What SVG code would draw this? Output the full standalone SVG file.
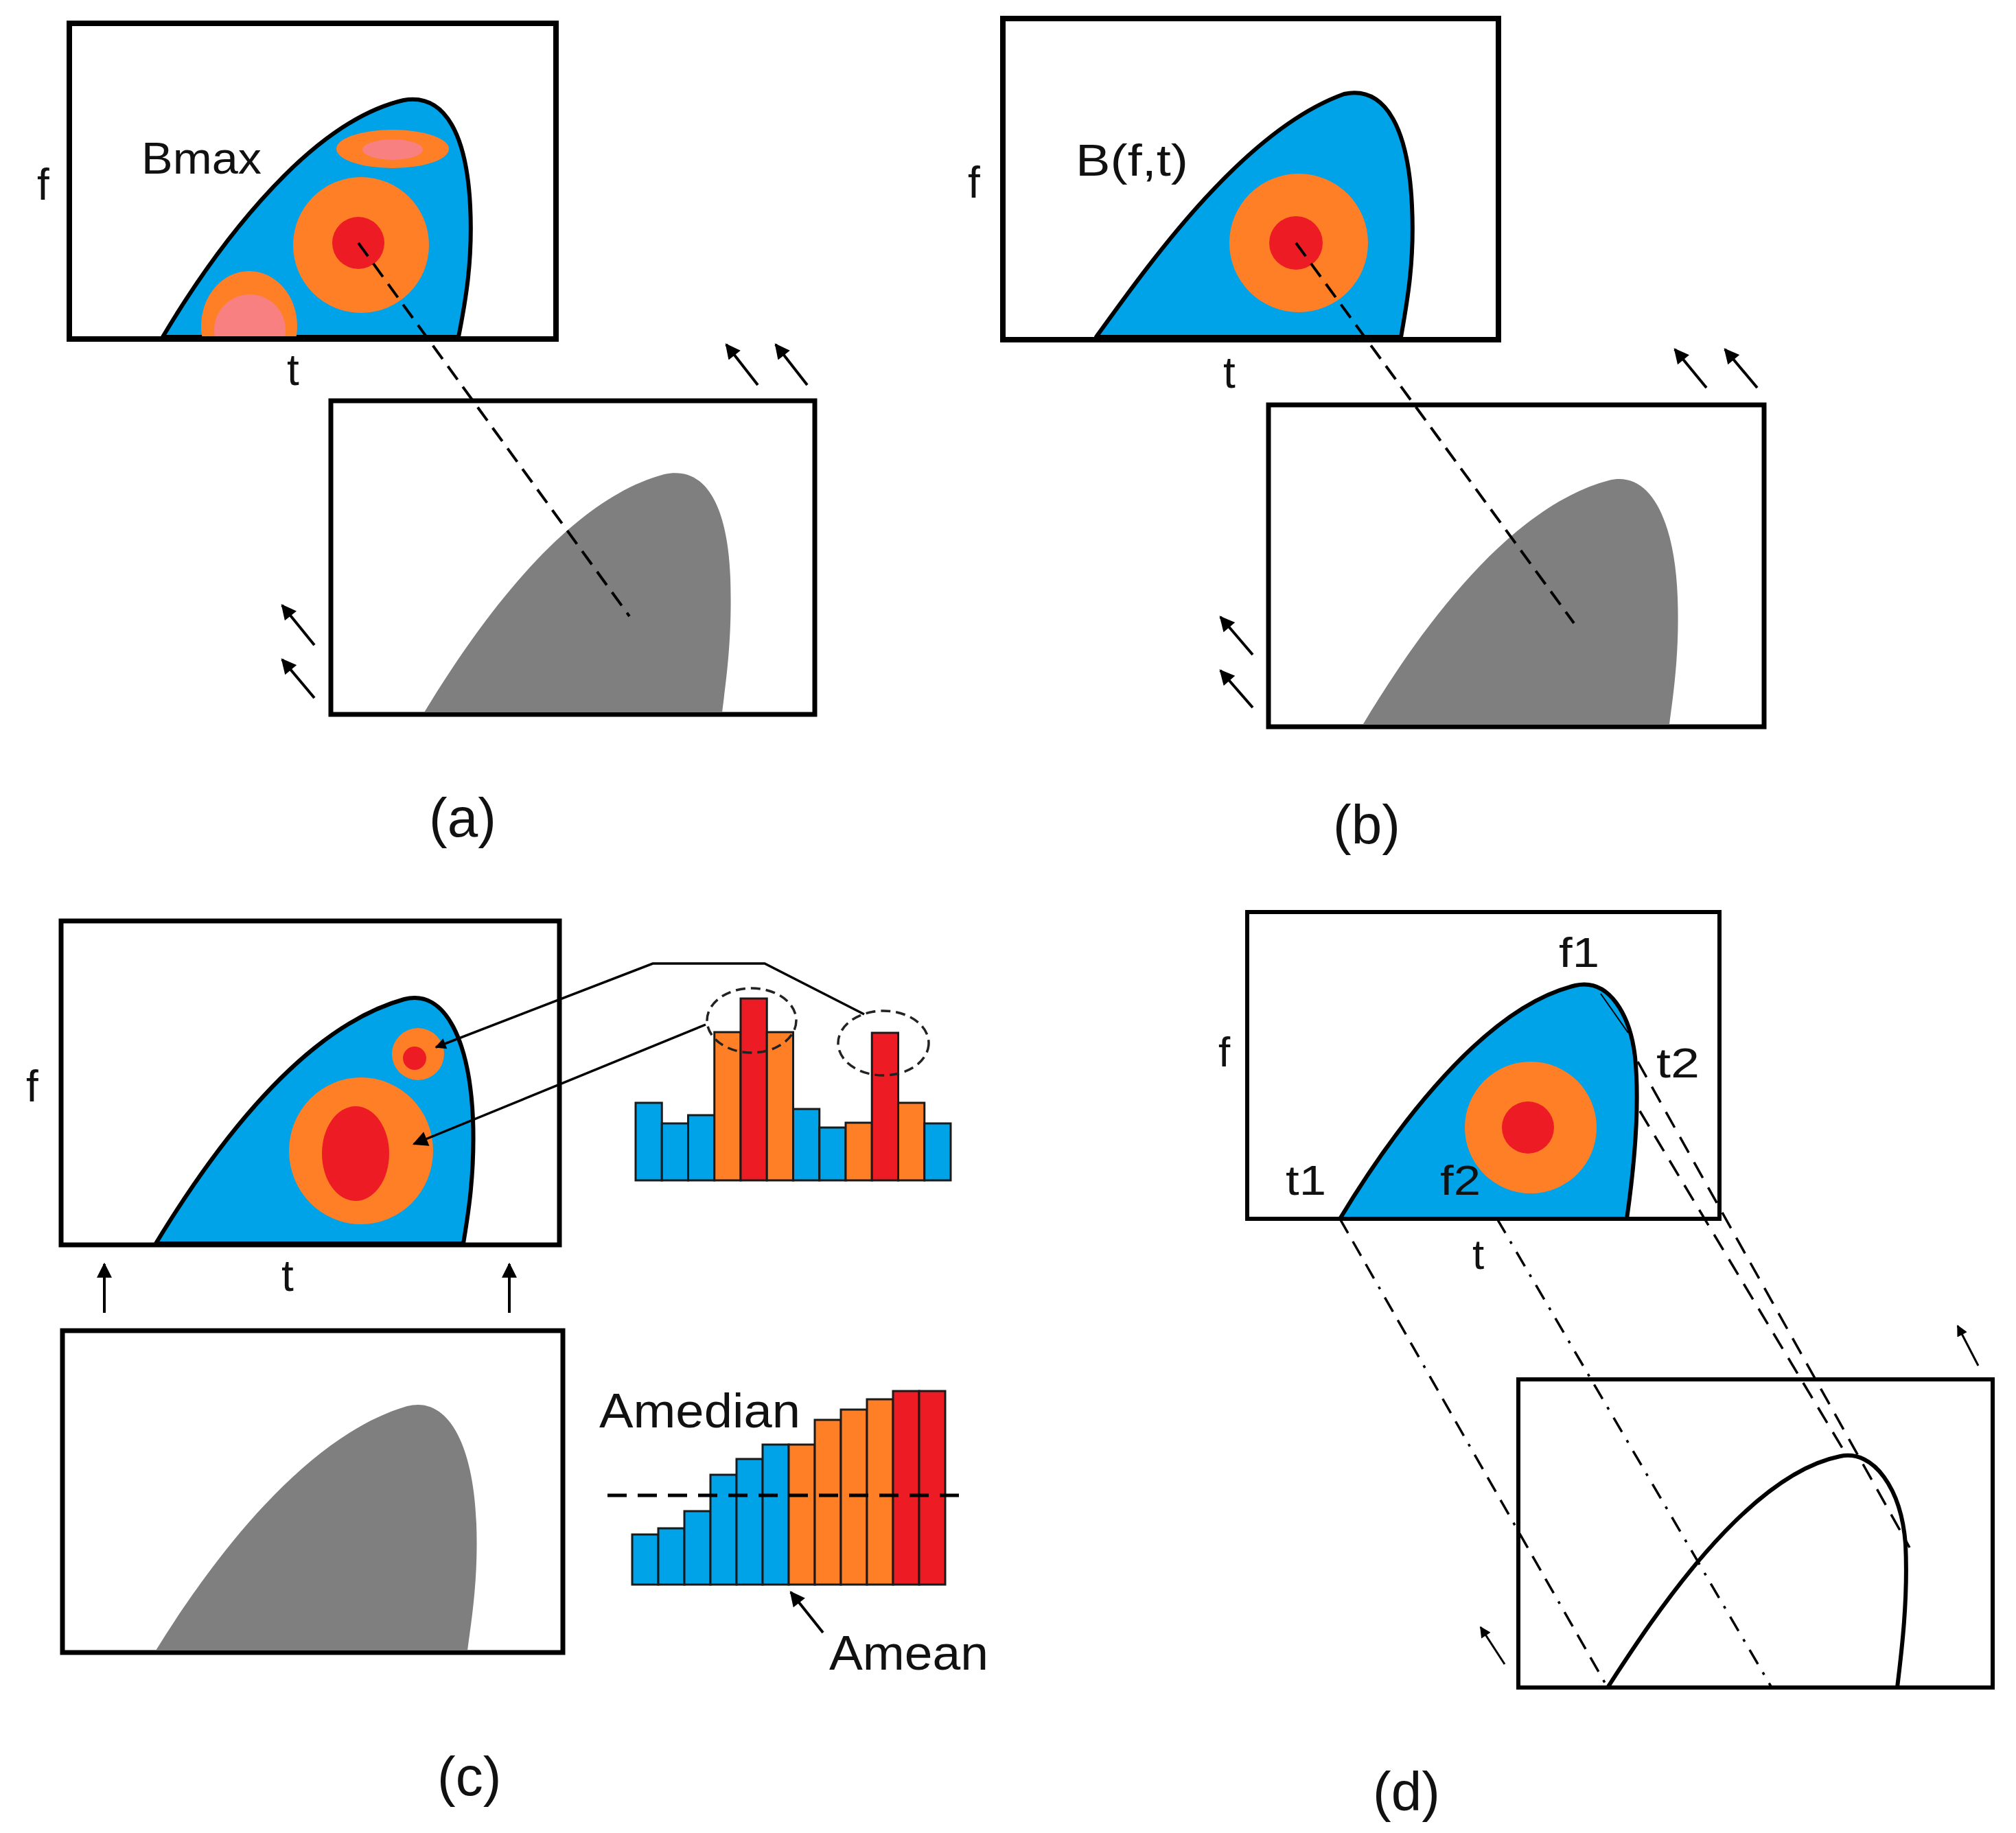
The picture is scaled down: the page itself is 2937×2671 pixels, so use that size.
<svg xmlns="http://www.w3.org/2000/svg" width="2937" height="2671" viewBox="0 0 2937 2671">
<style>
.frame{fill:none;stroke:#000;stroke-width:7}
.edge{stroke:#000;stroke-width:6;stroke-linejoin:round}
.blue{fill:#00A2E8}
.orange{fill:#FF7F27}
.red{fill:#ED1C24}
.pink{fill:#F88080}
.gray{fill:#7F7F7F}
.lbl{font-family:"Liberation Sans",Arial,sans-serif;font-size:64px;fill:#111}
.cap{font-family:"Liberation Sans",Arial,sans-serif;font-size:80px;fill:#111}
.dash{fill:none;stroke:#000;stroke-width:4;stroke-dasharray:24 13}
.arr{fill:none;stroke:#000;stroke-width:4;marker-end:url(#ah)}
.arrs{fill:none;stroke:#000;stroke-width:3;marker-end:url(#ahs)}
.conn{fill:none;stroke:#000;stroke-width:3.5}
.bar{stroke:#1a1a1a;stroke-width:3}
.dcirc{fill:none;stroke:#222;stroke-width:3.5;stroke-dasharray:14 8}
</style>
<defs>
<marker id="ah" viewBox="0 0 10 10" refX="9" refY="5" markerWidth="24" markerHeight="22" markerUnits="userSpaceOnUse" orient="auto"><path d="M0,0 L10,5 L0,10 z" fill="#000"/></marker>
<marker id="ahs" viewBox="0 0 10 10" refX="9" refY="5" markerWidth="18" markerHeight="16" markerUnits="userSpaceOnUse" orient="auto"><path d="M0,0 L10,5 L0,10 z" fill="#000"/></marker>
<clipPath id="clipA"><path d="M237,491 C300,385 440,180 588,146 C650,135 680,200 685,300 C689,380 678,440 668,491 Z"/></clipPath>
</defs>
<rect width="2937" height="2671" fill="#fff"/>

<!-- Panel (a) -->
<g id="a-spectrogram">
<path class="blue edge" d="M237,491 C300,385 440,180 588,146 C650,135 680,200 685,300 C689,380 678,440 668,491 Z"/>
<g clip-path="url(#clipA)">
<ellipse class="orange" cx="363" cy="475" rx="70" ry="80"/>
<ellipse class="pink" cx="364" cy="481" rx="52" ry="52"/>
</g>
<ellipse class="orange" cx="572" cy="217" rx="82" ry="28"/>
<ellipse class="pink" cx="572" cy="218" rx="44" ry="15"/>
<circle class="orange" cx="526" cy="357" r="99"/>
<circle class="red" cx="522" cy="354" r="38"/>
<rect class="frame" x="101" y="34" width="709" height="460" style="stroke-width:8"/>
<text class="lbl" x="54" y="291">f</text>
<text class="lbl" x="206" y="253" textLength="175" lengthAdjust="spacingAndGlyphs">Bmax</text>
<text class="lbl" x="418" y="561">t</text>
</g>
<g id="a-image">
<rect class="frame" x="482" y="584" width="705" height="457"/>
<path class="gray" d="M618,1038 C690,920 820,730 968,691 C1030,678 1060,740 1064,842 C1067,930 1058,990 1052,1038 Z"/>
<text class="cap" x="625" y="1219">(a)</text>
</g>

<!-- Panel (b) -->
<g id="b-spectrogram">
<path class="blue edge" d="M1597,491 C1670,390 1810,190 1958,137 C2020,124 2052,190 2057,300 C2061,380 2050,440 2041,491 Z"/>
<circle class="orange" cx="1892" cy="354" r="101"/>
<circle class="red" cx="1888" cy="354" r="39"/>
<rect class="frame" x="1461" y="27" width="722" height="468" style="stroke-width:8"/>
<text class="lbl" x="1410" y="288">f</text>
<text class="lbl" x="1567" y="256" textLength="164" lengthAdjust="spacingAndGlyphs">B(f,t)</text>
<text class="lbl" x="1782" y="565">t</text>
</g>
<g id="b-image">
<rect class="frame" x="1848" y="590" width="722" height="469"/>
<path class="gray" d="M1986,1055 C2055,940 2190,740 2344,700 C2405,685 2440,760 2444,870 C2447,950 2438,1010 2432,1055 Z"/>
<text class="cap" x="1942" y="1229">(b)</text>
</g>

<!-- Panel (c) -->
<g id="c-spectrogram">
<path class="blue edge" d="M227,1812 C295,1700 430,1500 589,1456 C650,1440 684,1520 689,1630 C692,1710 682,1770 675,1812 Z"/>
<circle class="orange" cx="609" cy="1536" r="38"/>
<circle class="red" cx="604" cy="1542" r="17"/>
<ellipse class="orange" cx="526" cy="1677" rx="105" ry="107"/>
<ellipse class="red" cx="518" cy="1681" rx="49" ry="69"/>
<rect class="frame" x="89" y="1342" width="726" height="472"/>
<text class="lbl" x="38" y="1605">f</text>
<text class="lbl" x="410" y="1881">t</text>
</g>
<g id="c-image">
<rect class="frame" x="91" y="1939" width="729" height="469"/>
<path class="gray" d="M227,2405 C295,2295 435,2095 593,2049 C655,2033 690,2110 694,2220 C697,2300 687,2360 681,2405 Z"/>
<text class="cap" x="637" y="2616">(c)</text>
</g>
<g id="c-histogram-top">
<rect class="bar blue" x="926" y="1607" width="38.25" height="113"/>
<rect class="bar blue" x="964.25" y="1637" width="38.25" height="83"/>
<rect class="bar blue" x="1002.5" y="1625" width="38.25" height="95"/>
<rect class="bar orange" x="1040.75" y="1504" width="38.25" height="216"/>
<rect class="bar red" x="1079" y="1455" width="38.25" height="265"/>
<rect class="bar orange" x="1117.25" y="1504" width="38.25" height="216"/>
<rect class="bar blue" x="1155.5" y="1616" width="38.25" height="104"/>
<rect class="bar blue" x="1193.75" y="1643" width="38.25" height="77"/>
<rect class="bar orange" x="1232" y="1636" width="38.25" height="84"/>
<rect class="bar red" x="1270.25" y="1505" width="38.25" height="215"/>
<rect class="bar orange" x="1308.5" y="1607" width="38.25" height="113"/>
<rect class="bar blue" x="1346.75" y="1637" width="38.25" height="83"/>
<ellipse class="dcirc" cx="1095" cy="1487" rx="65" ry="47"/>
<ellipse class="dcirc" cx="1287" cy="1520" rx="66" ry="47"/>
</g>
<g id="c-histogram-sorted">
<rect class="bar blue" x="921" y="2236" width="38" height="73"/>
<rect class="bar blue" x="959" y="2227" width="38" height="82"/>
<rect class="bar blue" x="997" y="2202" width="38" height="107"/>
<rect class="bar blue" x="1035" y="2149" width="38" height="160"/>
<rect class="bar blue" x="1073" y="2126" width="38" height="183"/>
<rect class="bar blue" x="1111" y="2105" width="38" height="204"/>
<rect class="bar orange" x="1149" y="2105" width="38" height="204"/>
<rect class="bar orange" x="1187" y="2069" width="38" height="240"/>
<rect class="bar orange" x="1225" y="2054" width="38" height="255"/>
<rect class="bar orange" x="1263" y="2039" width="38" height="270"/>
<rect class="bar red" x="1301" y="2027" width="38" height="282"/>
<rect class="bar red" x="1339" y="2027" width="38" height="282"/>
<line x1="885" y1="2179" x2="1407" y2="2179" stroke="#000" stroke-width="5" stroke-dasharray="28 16"/>
<text class="lbl" x="873" y="2080" style="font-size:70px" textLength="293" lengthAdjust="spacingAndGlyphs">Amedian</text>
<text class="lbl" x="1208" y="2433" style="font-size:70px" textLength="232" lengthAdjust="spacingAndGlyphs">Amean</text>
</g>

<!-- Panel (d) -->
<g id="d-spectrogram">
<path class="blue edge" d="M1952,1776 C2010,1680 2150,1470 2295,1436 C2345,1425 2375,1480 2382,1540 C2390,1620 2378,1720 2370,1776 Z"/>
<line x1="2332" y1="1448" x2="2372" y2="1505" stroke="#000" stroke-width="2"/>
<circle class="orange" cx="2230" cy="1643" r="96"/>
<circle class="red" cx="2226" cy="1643" r="38"/>
<rect class="frame" x="1817" y="1329" width="688" height="447" style="stroke-width:6"/>
<text class="lbl" x="1775" y="1554" style="font-size:62px">f</text>
<text class="lbl" x="2271" y="1409" style="font-size:62px" textLength="59" lengthAdjust="spacingAndGlyphs">f1</text>
<text class="lbl" x="2413" y="1570" style="font-size:62px" textLength="63" lengthAdjust="spacingAndGlyphs">t2</text>
<text class="lbl" x="1873" y="1741" style="font-size:62px" textLength="59" lengthAdjust="spacingAndGlyphs">t1</text>
<text class="lbl" x="2098" y="1741" style="font-size:62px" textLength="59" lengthAdjust="spacingAndGlyphs">f2</text>
<text class="lbl" x="2145" y="1849" style="font-size:62px">t</text>
</g>
<g id="d-image">
<rect class="frame" x="2212" y="2010" width="691" height="449" style="stroke-width:6"/>
<path d="M2342,2459 C2400,2370 2540,2150 2681,2122 C2730,2112 2770,2170 2776,2250 C2780,2330 2770,2410 2764,2459" fill="none" stroke="#000" stroke-width="6"/>
<text class="cap" x="2000" y="2638">(d)</text>
</g>

<!-- Connectors -->
<g id="connectors">
<line class="dash" x1="522" y1="354" x2="917" y2="898"/>
<line class="dash" x1="1888" y1="354" x2="2293" y2="908"/>
<line class="arr" x1="1104" y1="561" x2="1058" y2="502"/>
<line class="arr" x1="1176" y1="561" x2="1130" y2="502"/>
<line class="arr" x1="458" y1="940" x2="411" y2="882"/>
<line class="arr" x1="458" y1="1017" x2="411" y2="961"/>
<line class="arr" x1="2486" y1="565" x2="2440" y2="509"/>
<line class="arr" x1="2560" y1="565" x2="2513" y2="509"/>
<line class="arr" x1="1825" y1="954" x2="1778" y2="899"/>
<line class="arr" x1="1825" y1="1031" x2="1778" y2="977"/>
<line class="arr" x1="152" y1="1913" x2="152" y2="1842"/>
<line class="arr" x1="742" y1="1913" x2="742" y2="1842"/>
<polyline class="conn" points="1259,1478 1114,1404 951,1404 635,1526" marker-end="url(#ahs)"/>
<line class="conn" x1="1028" y1="1493" x2="603" y2="1667" marker-end="url(#ah)"/>
<line class="arr" x1="1199" y1="2379" x2="1152" y2="2320"/>
<line x1="1952" y1="1776" x2="2342" y2="2459" stroke="#000" stroke-width="3.5" stroke-dasharray="24 14 24 14 24 14 4 14"/>
<line x1="2181" y1="1776" x2="2581" y2="2459" stroke="#000" stroke-width="3.5" stroke-dasharray="24 14 4 14"/>
<line x1="2386" y1="1547" x2="2782" y2="2255" stroke="#000" stroke-width="3.5" stroke-dasharray="26 16"/>
<line x1="2389" y1="1619" x2="2690" y2="2120" stroke="#000" stroke-width="3.5" stroke-dasharray="26 16"/>
<line class="arrs" x1="2882" y1="1990" x2="2852" y2="1932"/>
<line class="arrs" x1="2192" y1="2425" x2="2157" y2="2371"/>
</g>
</svg>
